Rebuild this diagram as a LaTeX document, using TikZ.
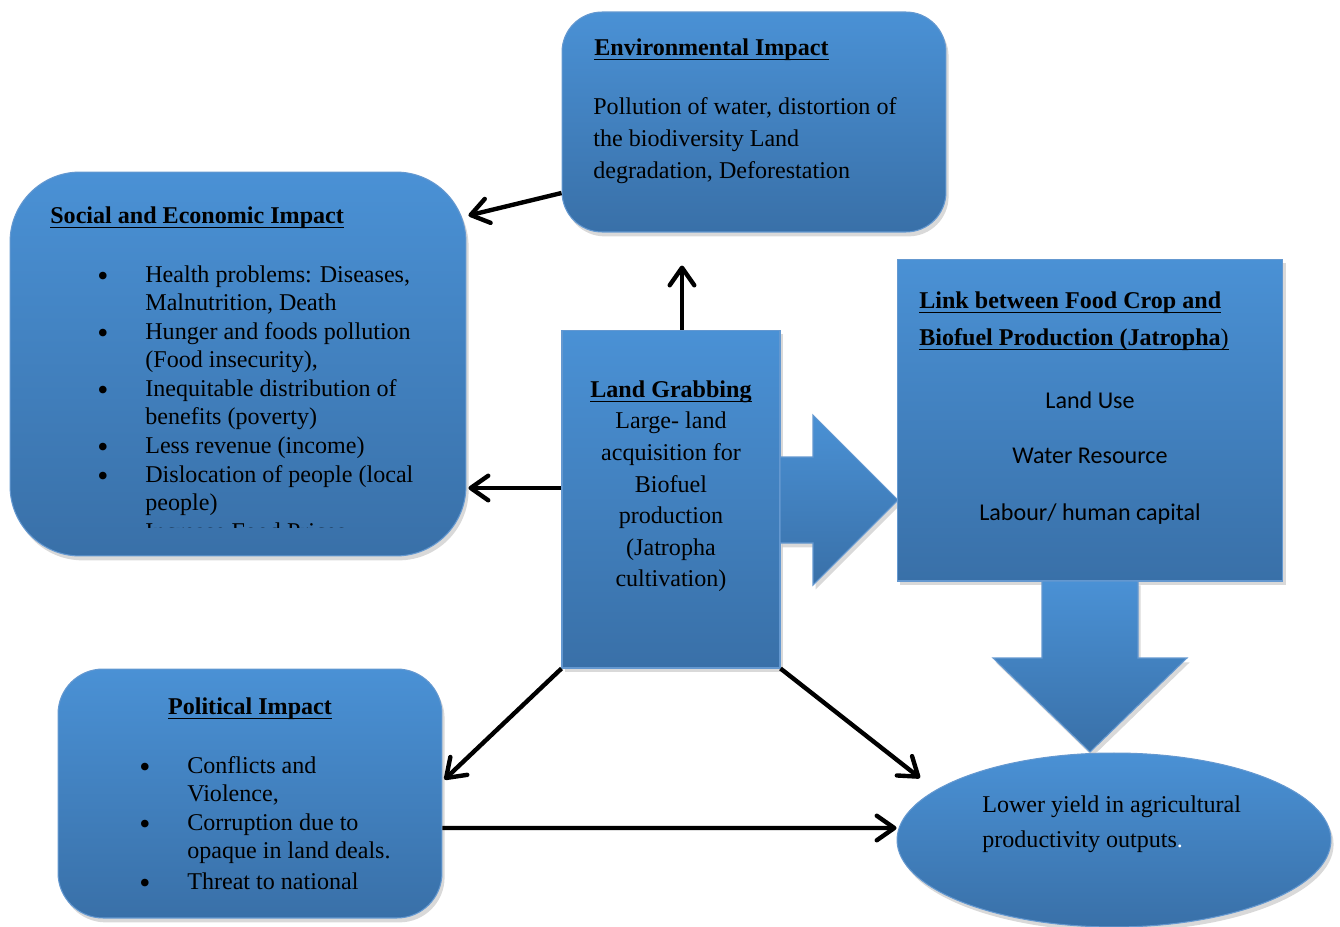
\documentclass[tikz,border=0pt]{standalone}
\usepackage{fontspec}
\setmainfont{Liberation Serif}
\newfontfamily\calibri{Carlito}
\usetikzlibrary{arrows.meta}
\usetikzlibrary{calc}
\usetikzlibrary{shapes.geometric}
\usetikzlibrary{shadows}

\definecolor{boxtop}{RGB}{74,145,213}
\definecolor{boxbot}{RGB}{57,112,168}
\definecolor{boxedge}{RGB}{100,152,208}

\newsavebox{\ulbox}
\newcommand{\ul}[1]{\sbox{\ulbox}{#1}\rlap{\rule[-2.4pt]{\wd\ulbox}{0.6pt}}\usebox{\ulbox}}
\newcommand{\ttl}[1]{\ul{\textbf{#1}}}

\begin{document}
\begin{tikzpicture}[
    x=0.02cm, y=-0.02cm,
    panel/.style={draw=boxedge, line width=0.6pt, top color=boxtop, bottom color=boxbot,
      drop shadow={shadow xshift=1.5pt, shadow yshift=-2.5pt, opacity=0.3}, inner sep=0},
    txt/.style={inner sep=0, anchor=west, text height=11pt, text depth=2pt,
      font=\fontsize{13.7}{16}\selectfont},
    dot/.style={txt, yshift=-2.3pt, font=\fontsize{18}{18}\selectfont},
    arr/.style={-{Straight Barb[round,length=10pt,width=14pt,line width=2.5pt]},
      line width=2.5pt},
  ]

    \useasboundingbox (0,0) rectangle (1340,927);

    % boxes
    \node [panel, rounded corners=0.8cm, minimum width=7.68cm, minimum height=4.4cm]
      (env) at (754,122) {};
    \node [panel, rounded corners=1.4cm, minimum width=9.12cm, minimum height=7.68cm]
      (soc) at (238,364) {};
    \node [panel, rounded corners=0.9cm, minimum width=7.68cm, minimum height=4.98cm]
      (pol) at (250,793.5) {};
    \node [panel, minimum width=4.36cm, minimum height=6.76cm] (land) at (671,499) {};

    % block arrow to the link box
    \path [panel] (780,457) -- (813,457) -- (813,415) -- (898,500) -- (813,585)
      -- (813,543) -- (780,543) -- cycle;

    \node [panel, minimum width=7.72cm, minimum height=6.44cm] (link) at (1090,420) {};

    % block arrow down to the yield
    \path [panel] (1042,581) -- (1138,581) -- (1138,658) -- (1187,658) -- (1090,752)
      -- (993,658) -- (1042,658) -- cycle;

    \node [panel, ellipse, minimum width=8.68cm, minimum height=3.48cm] (yield) at (1114,840) {};

    % environmental
    \node [txt] (env-t) at (594,48) {\ttl{Environmental Impact}};
    \foreach \yy/\ln in {107/{Pollution of water, distortion of},
        139/{the biodiversity Land}, 171/{degradation, Deforestation}}
      \node [txt] (env-\yy) at (593,\yy) {\ln};

    % social and economic
    \node [txt] (soc-t) at (50,216) {\ttl{Social and Economic Impact}};
    \foreach \yy/\ln in {275/{Health problems: Diseases,}, 303/{Malnutrition, Death},
        332/{Hunger and foods pollution}, 360/{(Food insecurity),},
        389/{Inequitable distribution of}, 417/{benefits (poverty)},
        446/{Less revenue (income)}, 475/{Dislocation of people (local},
        503/{people)}}
      \node [txt] (soc-\yy) at (145,\yy) {\ln};
    \foreach \yy in {275,332,389,446,475}
      \node [dot] (socb-\yy) at (97,\yy) {•};
    \begin{scope}
      \clip (0,0) rectangle (1340,527);
      \node [txt, anchor=base west] (soc-cut) at (145,539) {Increase Food Prices};
    \end{scope}

    % political
    \node [txt, anchor=center] (pol-t) at (250,707) {\ttl{Political Impact}};
    \foreach \yy/\ln in {766/{Conflicts and}, 794/{Violence,}, 823/{Corruption due to},
        851/{opaque in land deals.}, 882/{Threat to national}}
      \node [txt] (pol-\yy) at (187,\yy) {\ln};
    \foreach \yy in {766,823,882}
      \node [dot] (polb-\yy) at (139,\yy) {•};

    % land grabbing
    \node [txt, anchor=center] (land-t) at (671,390) {\ttl{Land Grabbing}};
    \foreach \yy/\ln in {421/{Large- land}, 453/{acquisition for}, 485/{Biofuel},
        516/{production}, 548/{(Jatropha}, 579/{cultivation)}}
      \node [txt, anchor=center] (land-\yy) at (671,\yy) {\ln};

    % link
    \node [txt] (link-t1) at (919,301) {\ttl{Link between Food Crop and}};
    \node [txt] (link-t2) at (919,338) {\ttl{Biofuel Production (Jatropha}\ul{)}};
    \foreach \yy/\ln in {401/{Land Use}, 456/{Water Resource}, 513/{Labour/ human capital}}
      \node [txt, anchor=center, font=\calibri\fontsize{13.7}{16}\selectfont] (link-\yy)
        at (1090,\yy) {\ln};

    % yield
    \node [txt] (yield-1) at (982,805) {Lower yield in agricultural};
    \node [txt] (yield-2) at (982,840) {productivity outputs\textcolor{white}{.}};

    % connectors
    \draw [arr] ($(env.west)+(0,71)$) -- ($(soc.north east)+(2,44)$);
    \draw [arr] ($(land.north)+(11,0)$) -- ($(env.south)+(-72,33)$);
    \draw [arr] ($(land.west)+(0,-11)$) -- ($(soc.east)+(2,124)$);
    \draw [arr] (land.south west) -- ($(pol.north east)+(2,111)$);
    \draw [arr] (land.south east) -- ($(yield.center)+(-194,-62)$);
    \draw [arr] ($(pol.east)+(0,34.5)$) -- ($(yield.west)+(0,-12)$);

  \end{tikzpicture}
\end{document}
